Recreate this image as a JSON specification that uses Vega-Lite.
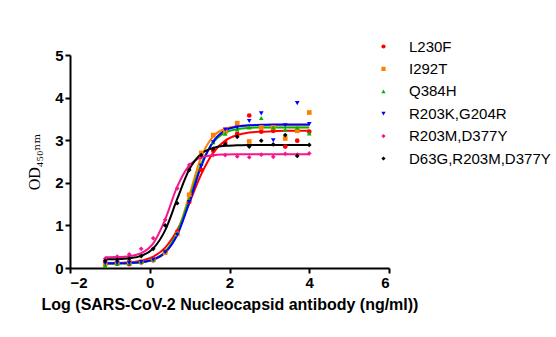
{
"$schema": "https://vega.github.io/schema/vega-lite/v6.json",
"width": 319, "height": 213,
"autosize": {"type": "none"},
"padding": {"left": 70, "top": 55, "right": 167, "bottom": 69},
"background": "white",
"datasets": {"d": [
{"s":"L230F","x":-1.117,"od":0.07,"fit":0.105},{"s":"L230F","x":-0.816,"od":0.1,"fit":0.112},{"s":"L230F","x":-0.515,"od":0.09,"fit":0.129},{"s":"L230F","x":-0.214,"od":0.13,"fit":0.169},{"s":"L230F","x":0.087,"od":0.18,"fit":0.265},{"s":"L230F","x":0.388,"od":0.38,"fit":0.478},{"s":"L230F","x":0.689,"od":0.85,"fit":0.89},{"s":"L230F","x":0.99,"od":1.55,"fit":1.52},{"s":"L230F","x":1.291,"od":2.3,"fit":2.2},{"s":"L230F","x":1.592,"od":2.75,"fit":2.71},{"s":"L230F","x":1.893,"od":2.94,"fit":2.99},{"s":"L230F","x":2.194,"od":3.15,"fit":3.12},{"s":"L230F","x":2.495,"od":3.58,"fit":3.18},{"s":"L230F","x":2.796,"od":3.2,"fit":3.2},{"s":"L230F","x":3.097,"od":3.22,"fit":3.21},{"s":"L230F","x":3.398,"od":2.85,"fit":3.22},{"s":"L230F","x":3.699,"od":2.99,"fit":3.22},{"s":"L230F","x":4.0,"od":3.2,"fit":3.22},
{"s":"I292T","x":-1.117,"od":0.1,"fit":0.12},{"s":"I292T","x":-0.816,"od":0.12,"fit":0.121},{"s":"I292T","x":-0.515,"od":0.13,"fit":0.126},{"s":"I292T","x":-0.214,"od":0.15,"fit":0.141},{"s":"I292T","x":0.087,"od":0.2,"fit":0.192},{"s":"I292T","x":0.388,"od":0.36,"fit":0.357},{"s":"I292T","x":0.689,"od":0.8,"fit":0.818},{"s":"I292T","x":0.99,"od":1.72,"fit":1.7},{"s":"I292T","x":1.291,"od":2.7,"fit":2.61},{"s":"I292T","x":1.592,"od":3.12,"fit":3.09},{"s":"I292T","x":1.893,"od":3.2,"fit":3.27},{"s":"I292T","x":2.194,"od":3.4,"fit":3.33},{"s":"I292T","x":2.495,"od":2.97,"fit":3.35},{"s":"I292T","x":2.796,"od":3.3,"fit":3.35},{"s":"I292T","x":3.097,"od":3.3,"fit":3.35},{"s":"I292T","x":3.398,"od":3.04,"fit":3.35},{"s":"I292T","x":3.699,"od":3.22,"fit":3.35},{"s":"I292T","x":4.0,"od":3.65,"fit":3.35},
{"s":"Q384H","x":-1.117,"od":0.05,"fit":0.1},{"s":"Q384H","x":-0.816,"od":0.1,"fit":0.104},{"s":"Q384H","x":-0.515,"od":0.11,"fit":0.111},{"s":"Q384H","x":-0.214,"od":0.14,"fit":0.134},{"s":"Q384H","x":0.087,"od":0.2,"fit":0.2},{"s":"Q384H","x":0.388,"od":0.4,"fit":0.384},{"s":"Q384H","x":0.689,"od":0.82,"fit":0.83},{"s":"Q384H","x":0.99,"od":1.6,"fit":1.61},{"s":"Q384H","x":1.291,"od":2.45,"fit":2.44},{"s":"Q384H","x":1.592,"od":2.95,"fit":2.95},{"s":"Q384H","x":1.893,"od":3.15,"fit":3.18},{"s":"Q384H","x":2.194,"od":3.25,"fit":3.26},{"s":"Q384H","x":2.495,"od":3.3,"fit":3.29},{"s":"Q384H","x":2.796,"od":3.52,"fit":3.3},{"s":"Q384H","x":3.097,"od":3.3,"fit":3.3},{"s":"Q384H","x":3.398,"od":3.25,"fit":3.3},{"s":"Q384H","x":3.699,"od":3.3,"fit":3.3},{"s":"Q384H","x":4.0,"od":3.16,"fit":3.3},
{"s":"R203K,G204R","x":-1.117,"od":0.11,"fit":0.111},{"s":"R203K,G204R","x":-0.816,"od":0.12,"fit":0.113},{"s":"R203K,G204R","x":-0.515,"od":0.12,"fit":0.12},{"s":"R203K,G204R","x":-0.214,"od":0.14,"fit":0.139},{"s":"R203K,G204R","x":0.087,"od":0.2,"fit":0.198},{"s":"R203K,G204R","x":0.388,"od":0.37,"fit":0.363},{"s":"R203K,G204R","x":0.689,"od":0.78,"fit":0.771},{"s":"R203K,G204R","x":0.99,"od":1.55,"fit":1.53},{"s":"R203K,G204R","x":1.291,"od":2.4,"fit":2.39},{"s":"R203K,G204R","x":1.592,"od":2.95,"fit":2.97},{"s":"R203K,G204R","x":1.893,"od":3.25,"fit":3.23},{"s":"R203K,G204R","x":2.194,"od":3.3,"fit":3.32},{"s":"R203K,G204R","x":2.495,"od":3.45,"fit":3.35},{"s":"R203K,G204R","x":2.796,"od":3.63,"fit":3.36},{"s":"R203K,G204R","x":3.097,"od":3.0,"fit":3.37},{"s":"R203K,G204R","x":3.398,"od":3.35,"fit":3.37},{"s":"R203K,G204R","x":3.699,"od":3.87,"fit":3.37},{"s":"R203K,G204R","x":4.0,"od":3.38,"fit":3.37},
{"s":"R203M,D377Y","x":-1.117,"od":0.22,"fit":0.252},{"s":"R203M,D377Y","x":-0.816,"od":0.27,"fit":0.257},{"s":"R203M,D377Y","x":-0.515,"od":0.32,"fit":0.277},{"s":"R203M,D377Y","x":-0.214,"od":0.45,"fit":0.348},{"s":"R203M,D377Y","x":0.087,"od":0.7,"fit":0.578},{"s":"R203M,D377Y","x":0.388,"od":1.13,"fit":1.144},{"s":"R203M,D377Y","x":0.689,"od":1.87,"fit":1.91},{"s":"R203M,D377Y","x":0.99,"od":2.42,"fit":2.406},{"s":"R203M,D377Y","x":1.291,"od":2.6,"fit":2.593},{"s":"R203M,D377Y","x":1.592,"od":2.65,"fit":2.649},{"s":"R203M,D377Y","x":1.893,"od":2.65,"fit":2.664},{"s":"R203M,D377Y","x":2.194,"od":2.62,"fit":2.67},{"s":"R203M,D377Y","x":2.495,"od":2.6,"fit":2.67},{"s":"R203M,D377Y","x":2.796,"od":2.66,"fit":2.67},{"s":"R203M,D377Y","x":3.097,"od":2.61,"fit":2.67},{"s":"R203M,D377Y","x":3.398,"od":2.68,"fit":2.67},{"s":"R203M,D377Y","x":3.699,"od":2.66,"fit":2.67},{"s":"R203M,D377Y","x":4.0,"od":2.69,"fit":2.67},
{"s":"D63G,R203M,D377Y","x":-1.117,"od":0.17,"fit":0.203},{"s":"D63G,R203M,D377Y","x":-0.816,"od":0.2,"fit":0.208},{"s":"D63G,R203M,D377Y","x":-0.515,"od":0.22,"fit":0.227},{"s":"D63G,R203M,D377Y","x":-0.214,"od":0.28,"fit":0.285},{"s":"D63G,R203M,D377Y","x":0.087,"od":0.45,"fit":0.458},{"s":"D63G,R203M,D377Y","x":0.388,"od":1.0,"fit":0.889},{"s":"D63G,R203M,D377Y","x":0.689,"od":1.52,"fit":1.62},{"s":"D63G,R203M,D377Y","x":0.99,"od":2.3,"fit":2.31},{"s":"D63G,R203M,D377Y","x":1.291,"od":2.65,"fit":2.68},{"s":"D63G,R203M,D377Y","x":1.592,"od":2.8,"fit":2.82},{"s":"D63G,R203M,D377Y","x":1.893,"od":2.9,"fit":2.87},{"s":"D63G,R203M,D377Y","x":2.194,"od":3.08,"fit":2.88},{"s":"D63G,R203M,D377Y","x":2.495,"od":2.85,"fit":2.89},{"s":"D63G,R203M,D377Y","x":2.796,"od":2.99,"fit":2.89},{"s":"D63G,R203M,D377Y","x":3.097,"od":2.9,"fit":2.89},{"s":"D63G,R203M,D377Y","x":3.398,"od":3.12,"fit":2.89},{"s":"D63G,R203M,D377Y","x":3.699,"od":2.63,"fit":2.89},{"s":"D63G,R203M,D377Y","x":4.0,"od":2.89,"fit":2.89}
]},
"data": {"name": "d"},
"encoding": {
  "x": {"field": "x", "type": "quantitative",
    "scale": {"domain": [-2, 6], "nice": false, "zero": false},
    "axis": {"values": [-2, 0, 2, 4, 6], "title": "Log (SARS-CoV-2 Nucleocapsid antibody (ng/ml))", "titleFontSize": 16, "titleFontWeight": "bold", "titleFont": "Liberation Sans", "titlePadding": 6}},
  "color": {"field": "s", "type": "nominal", "title": null,
    "scale": {"domain": ["L230F","I292T","Q384H","R203K,G204R","R203M,D377Y","D63G,R203M,D377Y"], "range": ["#ff0000","#ff8000","#00b400","#0000ff","#f5178d","#000000"]}}
},
"layer": [
  {"mark": {"type": "line", "interpolate": "monotone", "strokeWidth": 2},
   "encoding": {
     "y": {"field": "fit", "type": "quantitative", "scale": {"domain": [0, 5], "nice": false},
       "axis": {"values": [0,1,2,3,4,5], "title": "OD₄₅₀ₙₘ", "titleFont": "Liberation Serif, DejaVu Serif", "titleFontWeight": "normal", "titleFontSize": 16, "titlePadding": 12}},
     "detail": {"field": "s"}
   }},
  {"mark": {"type": "point", "filled": true, "size": 22, "opacity": 1},
   "encoding": {
     "y": {"field": "od", "type": "quantitative"},
     "shape": {"field": "s", "type": "nominal", "title": null,
       "scale": {"domain": ["L230F","I292T","Q384H","R203K,G204R","R203M,D377Y","D63G,R203M,D377Y"], "range": ["circle","square","triangle-up","triangle-down","diamond","diamond"]}}
   }}
],
"config": {
  "view": {"stroke": null},
  "axis": {"grid": false, "domainColor": "#000", "domainWidth": 2, "tickColor": "#000", "tickWidth": 2, "tickSize": 5, "labelFont": "Liberation Sans", "labelFontWeight": "bold", "labelFontSize": 15, "labelColor": "#000", "titleColor": "#000", "labelPadding": 2},
  "legend": {"orient": "none", "legendX": 306, "legendY": -16, "symbolSize": 18, "symbolType": "circle", "symbolStrokeWidth": 0, "labelFontSize": 15, "labelFont": "Liberation Sans", "labelColor": "#000", "labelOffset": 18, "rowPadding": 6.4}
}
}
